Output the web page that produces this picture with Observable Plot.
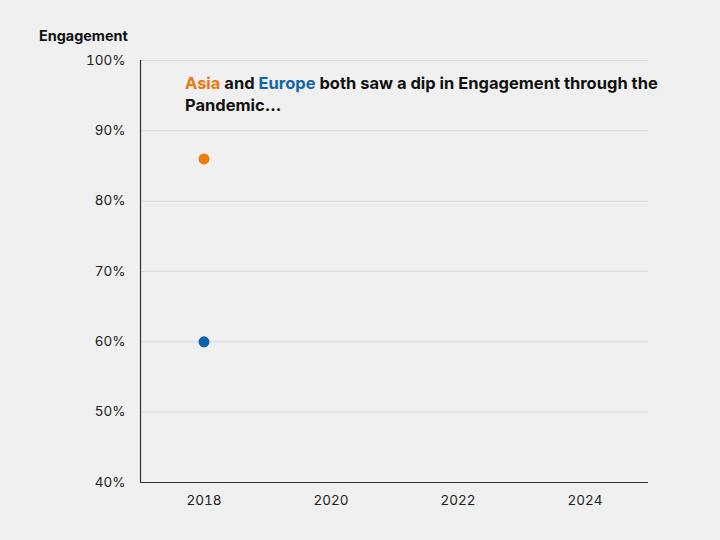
<!DOCTYPE html>
<html>
<head>
<meta charset="utf-8">
<script src="https://cdn.jsdelivr.net/npm/d3@7"></script>
<script src="https://cdn.jsdelivr.net/npm/@observablehq/plot@0.6"></script>
<style>
  html, body { margin: 0; padding: 0; background: #f0f0f0; }
  #wrap { position: relative; width: 720px; height: 540px; font-family: Inter, Lato, "Noto Sans", sans-serif; }
  #ytitle { position: absolute; left: 39px; top: 27px; font-size: 14.4px; font-weight: 700; color: #111; white-space: nowrap; }
  .line { position: absolute; left: 185px; font-size: 16.5px; font-weight: 700; color: #111; white-space: nowrap; }
  #l1 { top: 73px; }
  #l2 { top: 95px; }
  .asia { color: #e8780f; }
  .europe { color: #1366ac; }
</style>
</head>
<body>
<div id="wrap">
  <div id="chart"></div>
  <div id="ytitle">Engagement</div>
  <div class="line" id="l1"><span class="asia">Asia</span><span> and </span><span class="europe">Europe</span><span> both saw a dip in Engagement through the</span></div>
  <div class="line" id="l2"><span>Pandemic...</span></div>
</div>
<script>
const years = [2018];
const asia = [86];
const europe = [60];
const xTicks = [2018, 2020, 2022, 2024];
const yTicks = [40, 50, 60, 70, 80, 90, 100];

const asiaColor = "#ef7d10";
const europeColor = "#0b62ab";

const rows = [
  ...years.map((y, i) => ({year: y, value: asia[i], region: "Asia"})),
  ...years.map((y, i) => ({year: y, value: europe[i], region: "Europe"}))
];

const chart = Plot.plot({
  width: 720,
  height: 540,
  marginLeft: 140,
  marginRight: 72,
  marginTop: 60,
  marginBottom: 58,
  style: {background: "#f0f0f0", fontFamily: "Inter, Lato, 'Noto Sans', sans-serif", fontSize: "13.5px", color: "#222"},
  x: {domain: [2017, 2025], ticks: xTicks, tickFormat: d => String(d), label: null, tickSize: 0, tickPadding: 13},
  y: {domain: [40, 100], ticks: yTicks, tickFormat: d => d + "%", label: null, tickSize: 0, tickPadding: 15},
  color: {domain: ["Asia", "Europe"], range: [asiaColor, europeColor]},
  marks: [
    Plot.gridY(yTicks.filter(t => t > 40), {stroke: "#d9d9d9", strokeOpacity: 1, strokeWidth: 1}),
    Plot.axisX({ticks: xTicks, tickFormat: d => String(d), tickSize: 0, tickPadding: 13, label: null, fontSize: 13.5}),
    Plot.axisY({ticks: yTicks, tickFormat: d => d + "%", tickSize: 0, tickPadding: 15, label: null, fontSize: 13.5}),
    Plot.ruleY([40], {stroke: "#333", strokeWidth: 1.2}),
    Plot.ruleX([2017], {stroke: "#333", strokeWidth: 1.2}),
    Plot.dot(rows, {x: "year", y: "value", fill: "region", r: 5.5, stroke: null})
  ]
});
document.getElementById("chart").appendChild(chart);
</script>
</body>
</html>
